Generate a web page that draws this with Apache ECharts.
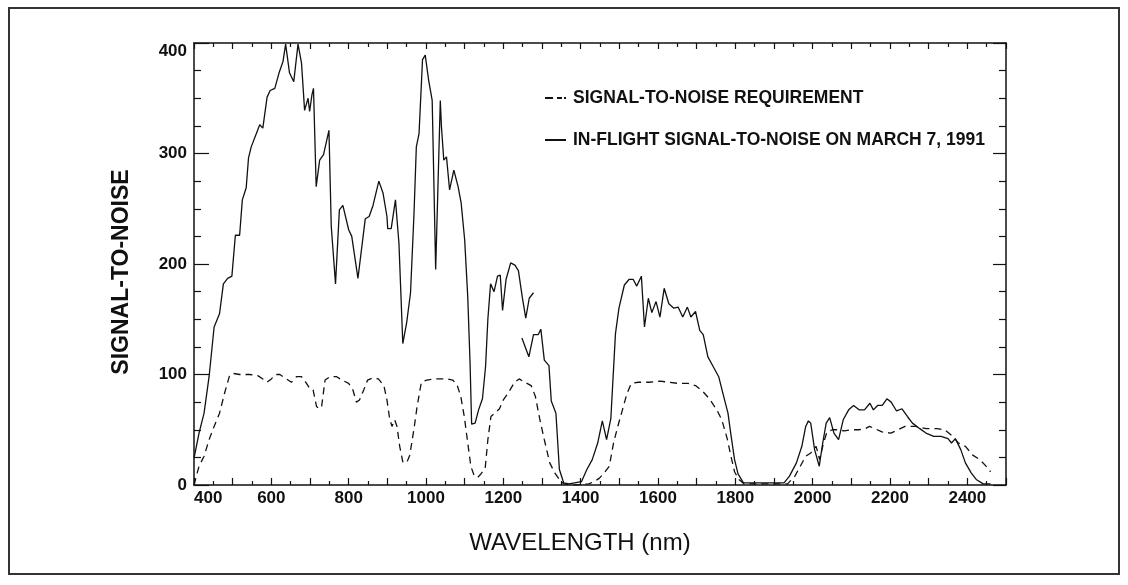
<!DOCTYPE html>
<html>
<head>
<meta charset="utf-8">
<script src="https://cdn.jsdelivr.net/npm/echarts@6/dist/echarts.min.js"></script>
<style>
  html, body { margin: 0; padding: 0; background: #ffffff; }
  #chart { width: 1128px; height: 585px; }
</style>
</head>
<body>
<div id="chart"></div>
<script>
// ---- Data (wavelength nm, signal-to-noise) ----
const seriesNames = ['SIGNAL-TO-NOISE REQUIREMENT', 'IN-FLIGHT SIGNAL-TO-NOISE ON MARCH 7, 1991'];

const requirement = [
  [400,0],[413,17],[426,26],[439,41],[452,53],[466,65],[479,83],[492,99],[501,101],[518,100],
  [544,100],[565,99],[578,96],[589,93],[600,96],[611,100],[622,100],[639,96],[652,93],[665,98],
  [678,98],[691,92],[700,87],[708,86],[717,71],[724,69],[730,71],[739,95],[752,98],[769,98],
  [782,95],[800,92],[811,86],[820,75],[828,77],[839,86],[849,95],[863,97],[877,96],[891,90],
  [899,77],[906,60],[912,53],[919,59],[925,53],[932,35],[940,21],[950,20],[958,27],[969,51],
  [977,71],[988,93],[1002,95],[1021,96],[1038,96],[1055,96],[1069,95],[1080,91],[1090,80],[1099,62],
  [1108,38],[1116,17],[1125,8],[1134,7],[1142,10],[1153,15],[1160,41],[1168,62],[1181,66],[1190,69],
  [1200,77],[1214,84],[1229,93],[1241,96],[1255,93],[1272,90],[1283,80],[1294,60],[1306,41],[1320,20],
  [1333,11],[1345,5],[1356,1],[1384,0],[1421,1],[1434,3],[1448,6],[1461,11],[1474,17],[1485,38],
  [1496,53],[1508,68],[1520,83],[1531,92],[1549,93],[1577,93],[1605,94],[1628,93],[1651,92],[1678,92],
  [1697,90],[1715,85],[1733,78],[1752,68],[1765,59],[1779,42],[1788,27],[1798,12],[1809,5],[1823,1],
  [1880,1],[1935,1],[1954,8],[1968,17],[1982,26],[1995,29],[2009,35],[2018,23],[2028,38],[2037,48],
  [2051,50],[2064,50],[2082,49],[2101,50],[2119,50],[2136,51],[2147,53],[2161,51],[2179,48],[2202,47],
  [2221,50],[2239,53],[2267,53],[2294,51],[2322,51],[2341,50],[2359,45],[2377,38],[2395,35],[2414,27],
  [2432,23],[2446,18],[2460,12]
];

const inflightPart1 = [
  [400,24],[413,47],[426,65],[439,98],[452,143],[466,155],[476,182],[487,187],[498,189],[507,226],
  [518,226],[525,258],[535,269],[541,296],[548,306],[570,326],[578,323],[589,351],[597,357],[609,359],
  [620,373],[630,383],[637,399],[647,373],[658,365],[669,399],[678,382],[686,339],[695,350],[699,338],
  [705,353],[709,359],[716,270],[725,294],[735,299],[749,321],[755,234],[766,182],[776,249],[785,253],
  [800,231],[808,225],[824,187],[843,241],[853,243],[863,253],[878,275],[889,264],[899,243],[901,232],
  [910,232],[921,258],[930,219],[940,128],[950,147],[960,174],[969,246],[975,306],[982,318],[991,385],
  [998,389],[1007,366],[1016,348],[1025,195],[1029,246],[1037,348],[1040,324],[1046,294],[1053,297],[1061,267],
  [1072,285],[1083,270],[1091,255],[1100,222],[1108,170],[1114,110],[1118,55],[1127,56],[1136,68],[1146,78],
  [1154,107],[1160,150],[1167,182],[1176,175],[1185,189],[1192,190],[1198,158],[1207,186],[1219,201],[1230,199],
  [1239,194],[1249,170],[1258,151],[1267,169],[1278,174]
];

const inflightPart2 = [
  [1248,133],[1266,116],[1278,136],[1290,136],[1297,141],[1306,113],[1318,108],[1324,76],[1336,65],[1345,14],
  [1356,2],[1370,1],[1402,3],[1416,14],[1430,23],[1444,38],[1456,58],[1467,41],[1478,60],[1490,137],
  [1499,160],[1504,161],[1513,181],[1525,186],[1536,186],[1545,180],[1557,189],[1565,143],[1575,169],[1584,156],
  [1595,166],[1605,152],[1616,178],[1628,164],[1641,160],[1652,161],[1664,152],[1676,161],[1685,152],[1697,157],
  [1708,140],[1717,136],[1729,116],[1743,107],[1757,98],[1770,80],[1781,65],[1788,47],[1798,23],[1807,10],
  [1821,2],[1853,2],[1926,2],[1940,8],[1958,20],[1972,35],[1982,53],[1989,58],[1995,56],[2005,32],
  [2017,17],[2026,38],[2035,56],[2044,61],[2055,47],[2067,41],[2079,59],[2093,68],[2106,72],[2120,68],
  [2134,68],[2148,74],[2157,68],[2168,72],[2180,72],[2192,78],[2203,75],[2217,67],[2231,69],[2245,62],
  [2258,56],[2277,51],[2293,47],[2313,44],[2332,44],[2350,42],[2359,38],[2369,42],[2383,32],[2395,20],
  [2410,11],[2423,5],[2441,1],[2460,1]
];

const xRange = [400, 2500];
const xTickStep = 100;
const xLabelStep = 200;
const yRange = [0, 400];
const yTickStep = 100;

// ---- Chart ----
const FONT = "'Liberation Sans', Arial, Helvetica, sans-serif";
const INK = '#111111';
const chart = echarts.init(document.getElementById('chart'), null, { renderer: 'canvas' });

const baseX = {
  type: 'value', min: xRange[0], max: xRange[1], interval: xTickStep,
  splitLine: { show: false },
  axisLine: { show: true, onZero: false, lineStyle: { color: INK, width: 1.5 } }
};
const baseY = {
  type: 'value', min: yRange[0], max: yRange[1], interval: yTickStep,
  splitLine: { show: false },
  axisLine: { show: true, onZero: false, lineStyle: { color: INK, width: 1.5 } }
};

chart.setOption({
  animation: false,
  backgroundColor: '#ffffff',
  textStyle: { fontFamily: FONT, color: INK },
  grid: { left: 194, right: 122, top: 43, bottom: 100, containLabel: false },
  graphic: [{
    type: 'rect', shape: { x: 9, y: 8, width: 1110, height: 566 },
    style: { fill: 'none', stroke: '#333', lineWidth: 2 }, silent: true
  }],
  legend: {
    orient: 'vertical', left: 545, top: 89, itemGap: 24, padding: 0,
    itemWidth: 21, itemHeight: 2,
    data: [
      { name: seriesNames[0], icon: 'path://M0,0h8v2h-8z M12,0h5v2h-5z M19,0h2v2h-2z' },
      { name: seriesNames[1], icon: 'path://M0,0h21v2h-21z' }
    ],
    itemStyle: { color: INK, borderWidth: 0 },
    textStyle: { fontFamily: FONT, fontSize: 17.5, fontWeight: 'bold', color: INK, padding: [0, 0, 0, 2] }
  },
  xAxis: [
    Object.assign({}, baseX, {
      position: 'bottom',
      name: 'WAVELENGTH (nm)', nameLocation: 'middle', nameGap: 46,
      nameTextStyle: { fontFamily: FONT, fontSize: 24, color: INK, padding: [0, 40, 0, 0] },
      axisTick: { show: true, inside: true, length: 7, lineStyle: { color: INK, width: 1.2 } },
      minorTick: { show: true, splitNumber: 2, length: 4, lineStyle: { color: INK, width: 1.2 } },
      axisLabel: {
        show: true, margin: 5, fontFamily: FONT, fontSize: 17, fontWeight: 'bold', color: INK,
        alignMinLabel: 'left',
        formatter: v => (v % xLabelStep === 0 && v < xRange[1]) ? String(v) : ''
      }
    }),
    Object.assign({}, baseX, {
      position: 'top',
      axisTick: { show: true, inside: true, length: 6, lineStyle: { color: INK, width: 1.2 } },
      minorTick: { show: true, splitNumber: 2, length: 4, lineStyle: { color: INK, width: 1.2 } },
      axisLabel: { show: false }
    })
  ],
  yAxis: [
    Object.assign({}, baseY, {
      position: 'left',
      name: 'SIGNAL-TO-NOISE', nameLocation: 'middle', nameGap: 61, nameRotate: 90,
      nameTextStyle: { fontFamily: FONT, fontSize: 23, fontWeight: 'bold', color: INK, padding: [0, 16, 0, 0] },
      axisTick: { show: true, inside: true, length: 15, lineStyle: { color: INK, width: 1.2 } },
      minorTick: { show: true, splitNumber: 4, length: 7, lineStyle: { color: INK, width: 1.2 } },
      axisLabel: {
        show: true, margin: 7, fontFamily: FONT, fontSize: 17, fontWeight: 'bold', color: INK,
        verticalAlignMaxLabel: 'top'
      }
    }),
    Object.assign({}, baseY, {
      position: 'right',
      axisTick: { show: true, inside: true, length: 13, lineStyle: { color: INK, width: 1.2 } },
      minorTick: { show: true, splitNumber: 4, length: 7, lineStyle: { color: INK, width: 1.2 } },
      axisLabel: { show: false }
    })
  ],
  series: [
    {
      name: seriesNames[0], type: 'line', xAxisIndex: 0, yAxisIndex: 0,
      data: requirement, showSymbol: false, symbol: 'none', smooth: false,
      lineStyle: { color: INK, width: 1.3, type: [7, 5] }, itemStyle: { color: INK }
    },
    {
      name: seriesNames[1], type: 'line', xAxisIndex: 0, yAxisIndex: 0,
      data: inflightPart1, showSymbol: false, symbol: 'none',
      lineStyle: { color: INK, width: 1.3, type: 'solid' }, itemStyle: { color: INK }
    },
    {
      name: seriesNames[1], type: 'line', xAxisIndex: 0, yAxisIndex: 0,
      data: inflightPart2, showSymbol: false, symbol: 'none',
      lineStyle: { color: INK, width: 1.3, type: 'solid' }, itemStyle: { color: INK }
    }
  ]
});
</script>
</body>
</html>
